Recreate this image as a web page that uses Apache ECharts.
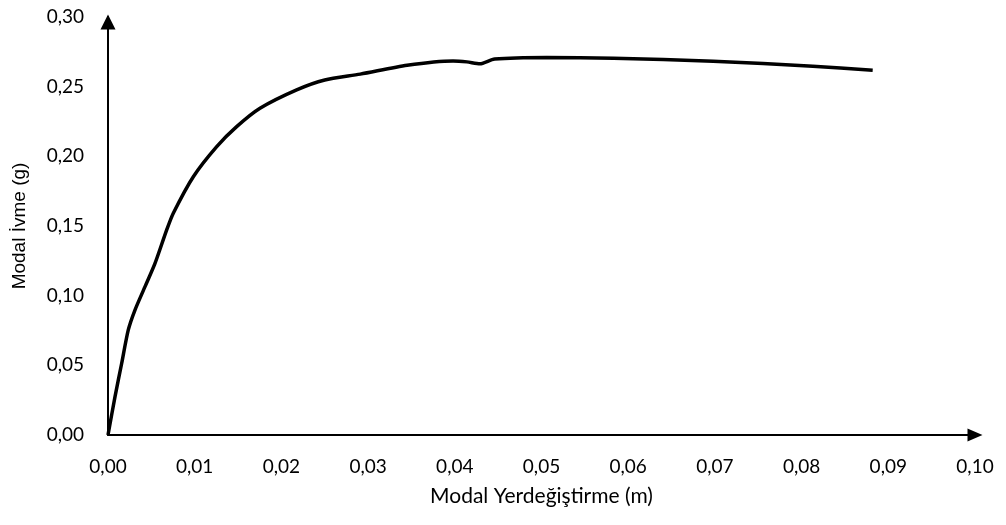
<!DOCTYPE html>
<html>
<head>
<meta charset="utf-8">
<script src="https://cdn.jsdelivr.net/npm/echarts@6/dist/echarts.min.js"></script>
<style>html,body{margin:0;padding:0;background:#fff}#c{width:1006px;height:525px}</style>
</head>
<body>
<div id="c"></div>
<script>
const displacement = [0, 0.00081, 0.00158, 0.00234, 0.00311, 0.00427, 0.00542, 0.00677, 0.00753, 0.00984, 0.01254, 0.01484, 0.01753, 0.02176, 0.0250, 0.0291, 0.0345, 0.0398, 0.0414, 0.0429, 0.0446, 0.0506, 0.0583, 0.0698, 0.0813, 0.0882];
const acceleration = [0, 0.0275, 0.0515, 0.0754, 0.0897, 0.1065, 0.1232, 0.1472, 0.1592, 0.1854, 0.2070, 0.2213, 0.2345, 0.2477, 0.2548, 0.2590, 0.2654, 0.2685, 0.2678, 0.2664, 0.2698, 0.2710, 0.2704, 0.2683, 0.2647, 0.2618];
const xTitle = 'Modal Yerdeğiştirme (m)';
const yTitle = 'Modal İvme (g)';

const fmt = v => v.toFixed(2).replace('.', ',');
const chart = echarts.init(document.getElementById('c'), null, {renderer: 'canvas'});
chart.setOption({
  animation: false,
  backgroundColor: '#fff',
  grid: {left: 108, right: 31, top: 17, bottom: 90, containLabel: false},
  xAxis: {
    type: 'value', min: 0, max: 0.10, interval: 0.01,
    name: xTitle, nameLocation: 'middle', nameGap: 51,
    nameTextStyle: {fontFamily: 'Lato', fontSize: 21, color: '#000'},
    axisLine: {show: true, onZero: false, symbol: ['none', 'triangle'], symbolSize: [13, 15], symbolOffset: [0, 0], lineStyle: {color: '#000', width: 2}},
    axisTick: {show: false},
    splitLine: {show: false},
    axisLabel: {formatter: fmt, margin: 22, fontFamily: 'Lato', fontSize: 19, color: '#000'}
  },
  yAxis: {
    type: 'value', min: 0, max: 0.30, interval: 0.05,
    name: yTitle, nameLocation: 'middle', nameGap: 79,
    nameTextStyle: {fontFamily: 'Liberation Sans', fontSize: 19, color: '#000'},
    axisLine: {show: true, onZero: false, symbol: ['none', 'triangle'], symbolSize: [15, 15], symbolOffset: [0, -5], lineStyle: {color: '#000', width: 2}},
    axisTick: {show: false},
    splitLine: {show: false},
    axisLabel: {formatter: fmt, margin: 24, fontFamily: 'Lato', fontSize: 19, color: '#000'}
  },
  series: [{
    type: 'line',
    data: displacement.map((x, i) => [x, acceleration[i]]),
    smooth: 0.25,
    showSymbol: false,
    lineStyle: {color: '#000', width: 3.5}
  }]
});
</script>
</body>
</html>
